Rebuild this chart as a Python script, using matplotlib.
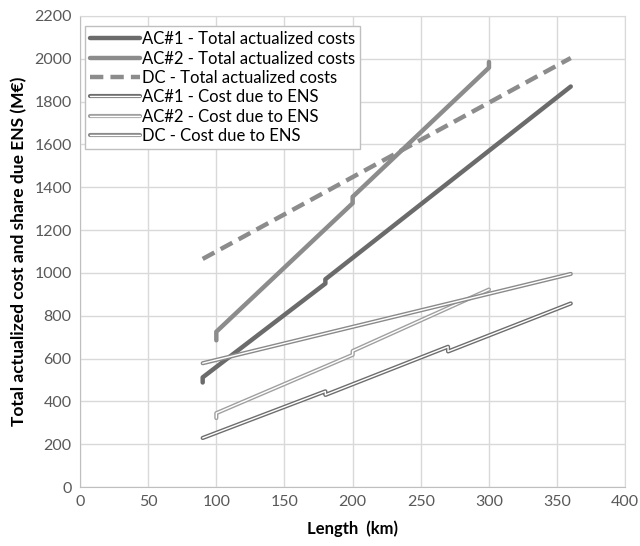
import matplotlib
matplotlib.use("Agg")
import matplotlib.pyplot as plt
import matplotlib.patheffects as pe

# Data
ac1_tot_x = [90, 90, 180, 180, 360]
ac1_tot_y = [488, 512, 950, 970, 1870]
ac2_tot_x = [100, 100, 200, 200, 300, 300]
ac2_tot_y = [685, 725, 1325, 1355, 1958, 1985]
dc_tot_x = [90, 360]
dc_tot_y = [1065, 2003]
ac1_ens_x = [90, 180, 180, 270, 270, 360]
ac1_ens_y = [229, 447, 430, 655, 633, 857]
ac2_ens_x = [100, 100, 200, 200, 300]
ac2_ens_y = [322, 345, 617, 635, 922]
dc_ens_x = [90, 360]
dc_ens_y = [578, 995]

x_ticks = [0, 50, 100, 150, 200, 250, 300, 350, 400]
y_ticks = list(range(0, 2201, 200))

plt.rcParams['font.family'] = ['Lato', 'DejaVu Sans']

fig = plt.figure(figsize=(6.4, 5.46), dpi=100)
ax = fig.add_axes([0.125, 0.108, 0.852, 0.863])

ax.plot(ac1_tot_x, ac1_tot_y, color='#6b6b6b', lw=3.2, solid_capstyle='round',
        solid_joinstyle='round', label='AC#1 - Total actualized costs', zorder=3)
ax.plot(ac2_tot_x, ac2_tot_y, color='#8c8c8c', lw=3.2, solid_capstyle='round',
        solid_joinstyle='round', label='AC#2 - Total actualized costs', zorder=3)
ax.plot(dc_tot_x, dc_tot_y, color='#8c8c8c', lw=3.2, dashes=(3, 1.6),
        label='DC - Total actualized costs', zorder=3)

def dbl(x, y, col, label):
    ax.plot(x, y, color='white', lw=1.0, solid_capstyle='round', solid_joinstyle='round',
            label=label, zorder=3,
            path_effects=[pe.Stroke(linewidth=3.0, foreground=col, capstyle='round', joinstyle='round'),
                          pe.Normal()])

dbl(ac1_ens_x, ac1_ens_y, '#6e6e6e', 'AC#1 - Cost due to ENS')
dbl(ac2_ens_x, ac2_ens_y, '#a0a0a0', 'AC#2 - Cost due to ENS')
dbl(dc_ens_x, dc_ens_y, '#8a8a8a', 'DC - Cost due to ENS')

ax.set_xlim(0, 400)
ax.set_ylim(0, 2200)
ax.set_xticks(x_ticks)
ax.set_yticks(y_ticks)
ax.grid(True, color='#d9d9d9', lw=1.0)
ax.set_axisbelow(True)
for s in ax.spines.values():
    s.set_color('#d9d9d9')
ax.spines['left'].set_color('#bfbfbf')
ax.spines['bottom'].set_color('#bfbfbf')
ax.tick_params(length=0, labelsize=11.5, colors='#595959', pad=6)

ax.set_xlabel('Length  (km)', fontsize=12, fontweight='bold', labelpad=8)
ax.set_ylabel('Total actualized cost and share due ENS (M€)', fontsize=12.5,
              fontweight='bold', labelpad=5)

leg = ax.legend(loc='upper left', bbox_to_anchor=(0.003, 0.985), fontsize=12,
                handlelength=3.0, handletextpad=0.1, labelspacing=0.2,
                borderpad=0.3, fancybox=False, framealpha=1, edgecolor='#bfbfbf',
                borderaxespad=0.2)
leg.get_frame().set_linewidth(1.0)

fig.savefig('out.png', dpi=100)
